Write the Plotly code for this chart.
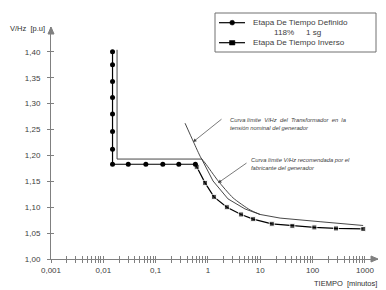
import plotly.graph_objects as go

# ---- data ----
def_x = [0.015, 0.015, 0.015, 0.015, 0.015, 0.015, 0.015, 0.015, 0.030, 0.065, 0.137, 0.277, 0.575]
def_y = [1.400, 1.375, 1.343, 1.312, 1.280, 1.246, 1.212, 1.183, 1.183, 1.183, 1.183, 1.183, 1.183]

inv_x = [0.575, 0.61, 0.88, 1.3, 2.3, 4.3, 7.3, 16.6, 41, 108, 280, 930]
inv_y = [1.183, 1.178, 1.147, 1.120, 1.100, 1.086, 1.077, 1.068, 1.064, 1.061, 1.059, 1.058]

man_x = [0.0183, 0.0183, 0.76, 1.25, 2.42, 5.12, 9.9, 23.9, 139, 925]
man_y = [1.404, 1.193, 1.193, 1.1507, 1.116, 1.0966, 1.086, 1.079, 1.072, 1.0647]

trf_x = [0.365, 0.526, 0.738, 0.88, 1.56, 3.02, 6.38, 9.9]
trf_y = [1.2622, 1.2267, 1.195, 1.1855, 1.151, 1.118, 1.0947, 1.086]

x_major = [0.001, 0.01, 0.1, 1, 10, 100, 1000]
x_labels = ["0,001", "0,01", "0,1", "1", "10", "100", "1000"]
y_ticks = [1.00, 1.05, 1.10, 1.15, 1.20, 1.25, 1.30, 1.35, 1.40]

# ---- geometry ----
W, H = 386, 290
L, R, T, B = 51, 8, 27, 31
PW, PH = W - L - R, H - T - B


def px(x):
    return (x - L) / PW


def py(y):
    return (H - B - y) / PH


x_tickvals = []
x_ticktext = []
for i, m in enumerate(x_major):
    x_tickvals.append(m)
    x_ticktext.append(x_labels[i])
    if m < 1000:
        for k in range(2, 10):
            x_tickvals.append(m * k)
            x_ticktext.append("")

FONT = "Liberation Sans"
TXT = "#404040"
AX = "#808080"

fig = go.Figure()

fig.add_trace(go.Scatter(x=man_x, y=man_y, mode="lines",
                         line=dict(color="#333333", width=0.9), hoverinfo="skip", showlegend=False))
fig.add_trace(go.Scatter(x=trf_x, y=trf_y, mode="lines",
                         line=dict(color="#333333", width=0.9, shape="spline", smoothing=0.6),
                         hoverinfo="skip", showlegend=False))
fig.add_trace(go.Scatter(x=inv_x, y=inv_y, mode="lines+markers",
                         line=dict(color="black", width=1.2),
                         marker=dict(symbol="square", size=[0] + [5] * (len(inv_x) - 1), color="black"),
                         showlegend=False))
fig.add_trace(go.Scatter(x=def_x, y=def_y, mode="lines+markers",
                         line=dict(color="black", width=1.2),
                         marker=dict(symbol="circle", size=5, color="black"),
                         showlegend=False))
# invisible trace to activate the overlay axes (for crossing ticks)
fig.add_trace(go.Scatter(x=[1], y=[1.2], xaxis="x2", yaxis="y2", mode="markers",
                         marker=dict(opacity=0), hoverinfo="skip", showlegend=False))

shapes = []
# axis arrow heads
shapes.append(dict(type="path", xref="paper", yref="paper",
                   path=f"M {px(371)} {py(256)} L {px(378)} {py(259)} L {px(371)} {py(262)} Z",
                   fillcolor=AX, line=dict(color=AX, width=1)))
shapes.append(dict(type="path", xref="paper", yref="paper",
                   path=f"M {px(48)} {py(34)} L {px(51)} {py(27)} L {px(54)} {py(34)} Z",
                   fillcolor=AX, line=dict(color=AX, width=1)))
# legend box
shapes.append(dict(type="rect", xref="paper", yref="paper",
                   x0=px(215), x1=px(376), y0=py(52), y1=py(13),
                   line=dict(color="#707070", width=1), fillcolor="white"))
shapes.append(dict(type="line", xref="paper", yref="paper",
                   x0=px(219), x1=px(245), y0=py(22.7), y1=py(22.7),
                   line=dict(color="black", width=1.2)))
shapes.append(dict(type="circle", xref="paper", yref="paper",
                   x0=px(229.8), x1=px(234.6), y0=py(25.1), y1=py(20.3),
                   fillcolor="black", line=dict(color="black", width=0.5)))
shapes.append(dict(type="line", xref="paper", yref="paper",
                   x0=px(219), x1=px(245), y0=py(42.7), y1=py(42.7),
                   line=dict(color="black", width=1.2)))
shapes.append(dict(type="rect", xref="paper", yref="paper",
                   x0=px(229.5), x1=px(234.9), y0=py(45), y1=py(40.5),
                   fillcolor="black", line=dict(color="black", width=0.5)))

ann = []
lf = dict(family=FONT, size=8.1, color=TXT)
ann.append(dict(xref="paper", yref="paper", x=px(251), y=py(22.7), text="Etapa De Tiempo Definido",
                showarrow=False, xanchor="left", yanchor="middle", font=lf))
ann.append(dict(xref="paper", yref="paper", x=px(272), y=py(32.5), text="118%",
                showarrow=False, xanchor="left", yanchor="middle", font=lf))
ann.append(dict(xref="paper", yref="paper", x=px(304), y=py(32.5), text="1 sg",
                showarrow=False, xanchor="left", yanchor="middle", font=lf))
ann.append(dict(xref="paper", yref="paper", x=px(251), y=py(42.7), text="Etapa De Tiempo Inverso",
                showarrow=False, xanchor="left", yanchor="middle", font=lf))
# axis titles
ann.append(dict(xref="paper", yref="paper", x=px(47), y=py(29), text="V/Hz  [p.u]",
                showarrow=False, xanchor="right", yanchor="middle",
                font=dict(family=FONT, size=7.5, color="#303030")))
ann.append(dict(xref="paper", yref="paper", x=px(379), y=py(283), text="TIEMPO  [minutos]",
                showarrow=False, xanchor="right", yanchor="middle",
                font=dict(family=FONT, size=7.5, color="#303030")))
# curve notes
nf = dict(family=FONT, size=5.8, color="#404040")
ann.append(dict(xref="paper", yref="paper", x=px(228), y=py(123.5),
                text="<i>Curva límite  V/Hz  del  Transformador  en  la<br>tensión nominal del generador</i>",
                showarrow=False, xanchor="left", yanchor="middle", align="left", font=nf))
ann.append(dict(xref="paper", yref="paper", x=px(249), y=py(163.5),
                text="<i>Curva límite V/Hz recomendada por el<br>fabricante del generador</i>",
                showarrow=False, xanchor="left", yanchor="middle", align="left", font=nf))
# arrows
ann.append(dict(xref="paper", yref="paper", x=px(193), y=py(142), ax=30, ay=-24, text="",
                showarrow=True, arrowhead=2, arrowsize=1, arrowwidth=0.7, arrowcolor="#404040", standoff=0))
ann.append(dict(xref="paper", yref="paper", x=px(218), y=py(183), ax=30, ay=-21, text="",
                showarrow=True, arrowhead=2, arrowsize=1, arrowwidth=0.7, arrowcolor="#404040", standoff=0))

tf = dict(family=FONT, size=8, color=TXT)
fig.update_layout(
    width=W, height=H,
    margin=dict(l=L, r=R, t=T, b=B, pad=0),
    paper_bgcolor="white", plot_bgcolor="white",
    separators=", ",
    showlegend=False,
    hovermode=False,
    shapes=shapes,
    annotations=ann,
    xaxis=dict(type="log", range=[-3, 3.25], showgrid=False, zeroline=False,
               showline=True, linecolor=AX, linewidth=1,
               ticks="outside", ticklen=3, tickcolor=AX, tickwidth=1,
               tickvals=x_tickvals, ticktext=x_ticktext, tickfont=tf, automargin=False),
    yaxis=dict(range=[1.0, 1.448], showgrid=False, zeroline=False,
               showline=True, linecolor=AX, linewidth=1,
               ticks="outside", ticklen=3, tickcolor=AX, tickwidth=1,
               tickvals=y_ticks, tickformat=".2f", tickfont=tf, ticklabelstandoff=5,
               automargin=False),
    xaxis2=dict(type="log", range=[-3, 3.25], overlaying="x", anchor="y", side="bottom",
                showgrid=False, zeroline=False, showline=False,
                ticks="inside", ticklen=3, tickcolor=AX, tickwidth=1,
                tickvals=x_tickvals, showticklabels=False),
    yaxis2=dict(range=[1.0, 1.448], overlaying="y", anchor="x", side="left",
                showgrid=False, zeroline=False, showline=False,
                ticks="inside", ticklen=3, tickcolor=AX, tickwidth=1,
                tickvals=y_ticks, showticklabels=False),
)

fig.write_html("out.html",
               config={"displayModeBar": False, "staticPlot": True},
               post_script="document.body.style.margin='0';document.body.style.padding='0';")
